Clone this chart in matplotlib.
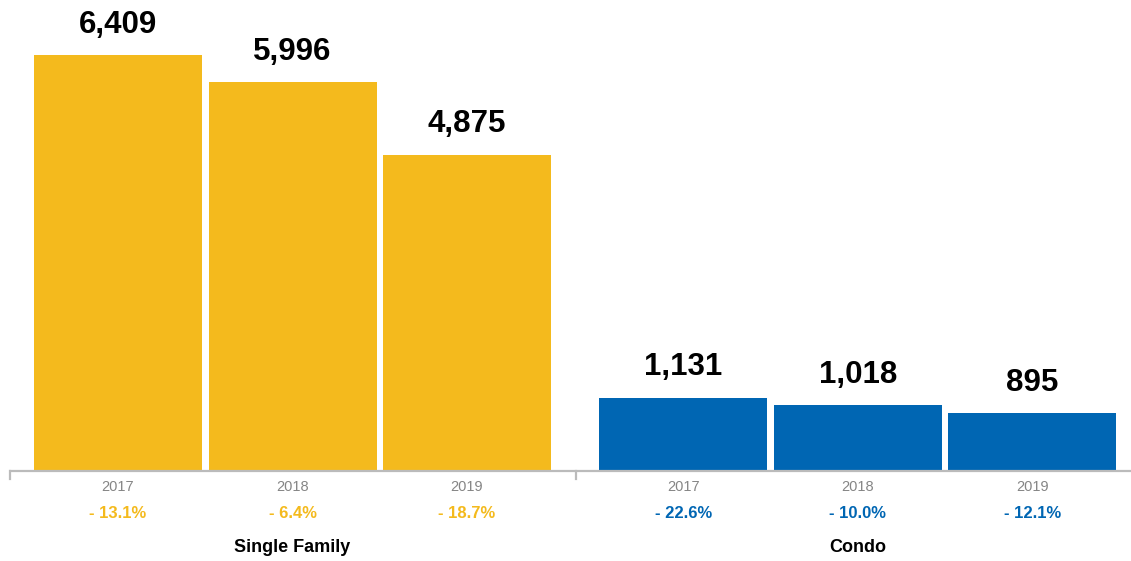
import matplotlib
matplotlib.use("Agg")
import matplotlib.pyplot as plt
import matplotlib.transforms as mtransforms

plt.rcParams['font.family'] = ['Liberation Sans', 'DejaVu Sans']

groups = ["Single Family", "Condo"]
years = ["2017", "2018", "2019"]
single_family = [6409, 5996, 4875]
condo = [1131, 1018, 895]
sf_change = ["- 13.1%", "- 6.4%", "- 18.7%"]
condo_change = ["- 22.6%", "- 10.0%", "- 12.1%"]

yellow = "#F4BA1D"
blue = "#0066B3"

fig = plt.figure(figsize=(11.31, 5.61), dpi=100)
ax = fig.add_axes([9/1131, 90/561, 1 - 9/1131, 471/561])

sf_x = [0, 1, 2]
co_x = [3.24, 4.24, 5.24]
width = 0.963

ax.bar(sf_x, single_family, width=width, color=yellow)
ax.bar(co_x, condo, width=width, color=blue)

ax.set_xlim(-0.625, 5.805)
ax.set_ylim(0, 7257)
for s in ax.spines.values():
    s.set_visible(False)
ax.set_xticks([])
ax.set_yticks([])

trans = mtransforms.blended_transform_factory(ax.transData, ax.transAxes)
# axis line
ax.plot([-0.625, 5.805], [0, 0], transform=trans, color="#BBBBBB", lw=1.6, clip_on=False, solid_capstyle='butt')
for tx in [-0.62, 2.625]:
    ax.plot([tx, tx], [0, -8/471], transform=trans, color="#BBBBBB", lw=1.6, clip_on=False)

def label_group(xs, vals, changes, color, name):
    for x, v, y, c in zip(xs, vals, years, changes):
        ax.annotate(f"{v:,}", (x, v), xytext=(0, 16), textcoords="offset points",
                    ha="center", va="baseline", fontsize=22.5, fontweight="bold", color="black")
        ax.text(x, -16/471, y, transform=trans, ha="center", va="center", fontsize=10.5, color="#858585")
        ax.text(x, -42/471, c, transform=trans, ha="center", va="center", fontsize=12, fontweight="bold", color=color)
    ax.text(xs[1], -76/471, name, transform=trans, ha="center", va="center", fontsize=13, fontweight="bold", color="black")

label_group(sf_x, single_family, sf_change, yellow, groups[0])
label_group(co_x, condo, condo_change, blue, groups[1])

fig.savefig("out.png", dpi=100)
